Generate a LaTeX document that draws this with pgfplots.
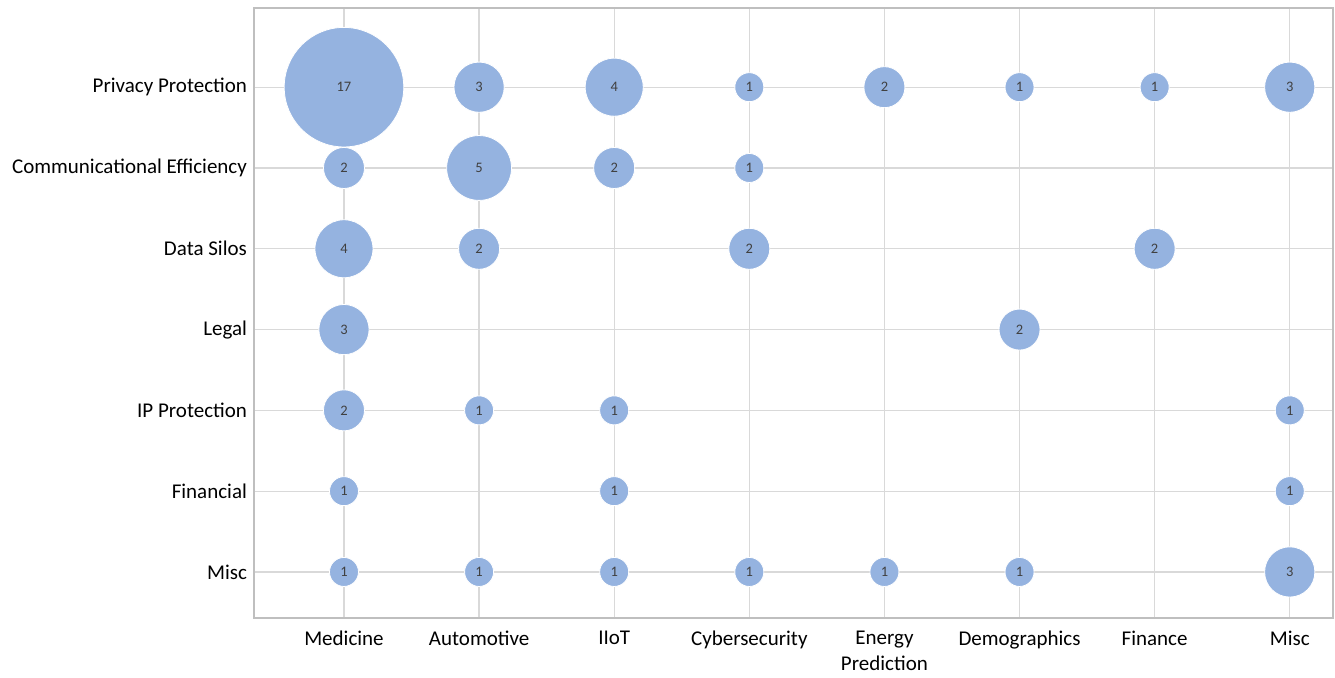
\documentclass[border=0pt]{standalone}
\usepackage{fontspec}
\setmainfont{Carlito}
\usepackage{pgfplots}
\pgfplotsset{compat=1.18}
\usepackage{pgfplotstable}
\definecolor{bub}{RGB}{149,179,224}
\definecolor{gridc}{RGB}{217,217,217}
\definecolor{axc}{RGB}{191,191,191}
\definecolor{numc}{RGB}{64,64,64}
\pgfplotstableread{
x y v
0 6 17
1 6 3
2 6 4
3 6 1
4 6 2
5 6 1
6 6 1
7 6 3
0 5 2
1 5 5
2 5 2
3 5 1
0 4 4
1 4 2
3 4 2
6 4 2
0 3 3
5 3 2
0 2 2
1 2 1
2 2 1
7 2 1
0 1 1
2 1 1
7 1 1
0 0 1
1 0 1
2 0 1
3 0 1
4 0 1
5 0 1
7 0 3
}\bubbles
\begin{document}
\begin{tikzpicture}
\useasboundingbox (0,0) rectangle (667.5pt,338.5pt);
\begin{axis}[
  at={(127pt,29.5pt)}, anchor=south west,
  scale only axis, width=539.5pt, height=305pt,
  xmin=-0.666, xmax=7.32, ymin=-0.57, ymax=6.98,
  xtick={0,...,7}, ytick={0,...,6},
  xticklabels={Medicine,Automotive,IIoT,Cybersecurity,{Energy\\Prediction},Demographics,Finance,Misc},
  yticklabels={Misc,Financial,IP Protection,Legal,Data Silos,Communicational Efficiency,Privacy Protection},
  xticklabel style={align=center, anchor=north, font=\fontsize{10.5}{13}\selectfont, yshift=-3pt},
  yticklabel style={font=\fontsize{10.5}{13}\selectfont},
  major tick length=0pt,
  grid=major, grid style={color=gridc, line width=0.6pt},
  axis line style={color=axc, line width=0.8pt},
  clip=false,
  /pgf/number format/assume math mode=true,
]
\addplot[
  scatter, only marks,
  mark=*,
  point meta=\thisrow{v},
  visualization depends on={\thisrow{v} \as \myv},
  scatter/@pre marker code/.code={%
    \pgfmathsetmacro\mysize{7.25*sqrt(\myv)}%
    \scope[mark size=\mysize pt, fill=bub, draw=white, line width=0.4pt]},
  scatter/@post marker code/.code={\endscope},
] table[x=x, y=y] {\bubbles};
\addplot[
  draw=none, mark=none,
  point meta=\thisrow{v},
  nodes near coords={\pgfmathprintnumber[assume math mode=true]{\pgfplotspointmeta}},
  nodes near coords style={anchor=center, font=\fontsize{7.25}{8}\selectfont, text=numc},
] table[x=x, y=y] {\bubbles};
\end{axis}
\end{tikzpicture}
\end{document}
